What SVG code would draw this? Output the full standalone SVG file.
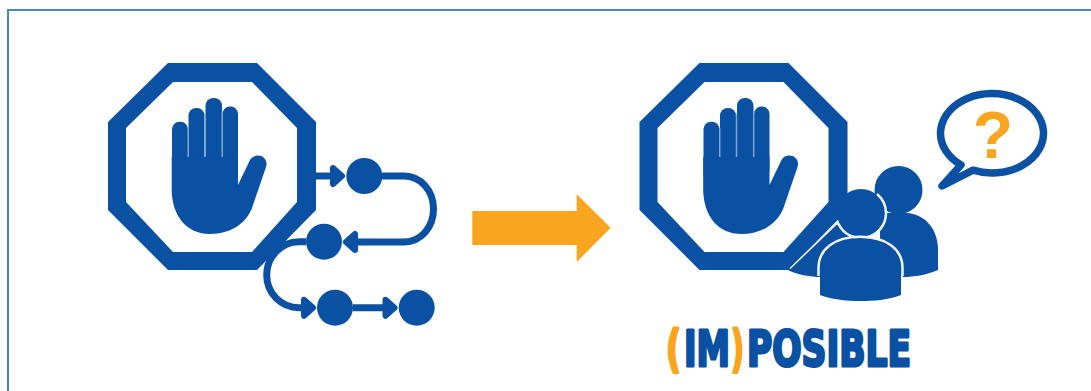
<svg xmlns="http://www.w3.org/2000/svg" width="1091" height="391" viewBox="0 0 1091 391">
<style>
.b{fill:#0a51a3}
.c{fill:none;stroke:#0a51a3;stroke-width:7}
.o{fill:#f9a51f}
.r{fill:none;stroke:#f1f5fa;stroke-width:2.500}
.g{fill:none;stroke:#7fa5d0;stroke-width:1.500}
.t{font-family:"DejaVu Sans",sans-serif;font-weight:700;font-size:49px;stroke-width:3;stroke-linejoin:round}
.tb{fill:#0a51a3;stroke:#0a51a3}
.to{fill:#f9a51f;stroke:#f9a51f}
</style>
<defs>
<marker id="ah" markerUnits="userSpaceOnUse" markerWidth="24" markerHeight="32" viewBox="-18 -16 24 32" refX="-5" refY="0" orient="auto">
<path d="M-10,-8 L-1,0 L-10,8 Z" fill="#0a51a3" stroke="#0a51a3" stroke-width="6" stroke-linejoin="round"/>
</marker>
<g id="stop">
<path class="b" fill-rule="evenodd" d="M168,63H257L316,122V210L257,270H168L108,210V122ZM173,82L126,128V202L173,252H252L297,202V128L252,82Z"/>
<rect class="b" x="172" y="121.700" width="16" height="60" rx="7.500"/>
<rect class="b" x="188.500" y="108" width="16" height="70" rx="7.500"/>
<rect class="b" x="205.500" y="98" width="16.500" height="80" rx="7.800"/>
<rect class="b" x="222.500" y="106.500" width="15.500" height="70" rx="7.300"/>
<path class="b" d="M171.700,156.700H238V185L249.500,161C252,155 260,154 264,158C267,161 267,164 265.700,168L253,205C248,222 232,234 210,234C186,234 172,215 171.700,190Z"/>
<path class="g" d="M188.200,128V157M205,114V157M222.200,112V157"/>
</g>
</defs>
<rect width="1091" height="391" fill="#fff"/>
<path d="M8,391V10H1091" fill="none" stroke="#4a87c2" stroke-width="2"/>

<g id="connectors">
<path class="c" d="M316,176H338" marker-end="url(#ah)"/>
<path class="c" d="M382,176H404C421,176 433.500,191 433.500,209C433.500,227 421,242 404,242H350" marker-end="url(#ah)"/>
<path class="c" d="M306,241.700H299C281,241.700 266.700,257 266.700,275C266.700,293 281,307.700 299,307.700H309" marker-end="url(#ah)"/>
<path class="c" d="M353,307.700H390.500" marker-end="url(#ah)"/>
</g>

<g id="stop-left"><use href="#stop"/></g>
<g id="step-1"><circle class="b" cx="364.300" cy="176" r="18"/></g>
<g id="step-2"><circle class="b" cx="324" cy="241.700" r="18"/></g>
<g id="step-3"><circle class="b" cx="335" cy="307.700" r="18"/></g>
<g id="step-4"><circle class="b" cx="416.700" cy="307.700" r="18"/></g>

<g id="big-arrow"><path class="o" d="M472.300,211H576.700V194.300L610.700,227.700L576.700,262V245H472.300Z"/></g>

<g id="stop-right"><use href="#stop" x="531.500"/></g>

<g id="people">
<path class="b" d="M788,270L836,224L862,240L830,277H817C806,276 796,274 788,270Z"/>
<path class="b" d="M880,213H906C926,214 938,230 938,250V270C926,275 914,277 903,277L880,240Z"/>
<circle class="b" cx="898.500" cy="190" r="24"/>
<circle class="b" cx="861" cy="213" r="24"/>
<path class="r" d="M838.500,224A25,25 0 0 0 886,213A25,25 0 0 0 877,194"/>
<path class="b" d="M820,295V268C820,250 835,238 860,238C886,238 901,250 901,268V295C888,300 874,301 860,301C845,301 831,299 820,295Z"/>
<path class="r" d="M818.500,276V268C818.500,249 835,236.800 860,236.800C886,236.800 902.500,249 902.500,268V276"/>
<path d="M790,268.500L838,222.500" stroke="#e6edf5" stroke-width="1.500" fill="none"/>
</g>

<g id="speech">
<path d="M961,165L942,186L973,170.200A51.500,39.700 0 1 0 961,165Z" fill="#fff" stroke="#0a51a3" stroke-width="7.500" stroke-linejoin="round"/>
<text x="993" y="158" text-anchor="middle" font-family="'Liberation Sans',sans-serif" font-weight="700" font-size="66" class="o">?</text>
</g>

<g id="label">
<text class="t to" transform="translate(666 366) scale(.67 1)">(</text>
<text class="t tb" transform="translate(684 366) scale(.686 1)">IM</text>
<text class="t to" transform="translate(731 366) scale(.58 1)">)</text>
<text class="t tb" transform="translate(747 366) scale(.704 1)">POSIBLE</text>
</g>
</svg>
